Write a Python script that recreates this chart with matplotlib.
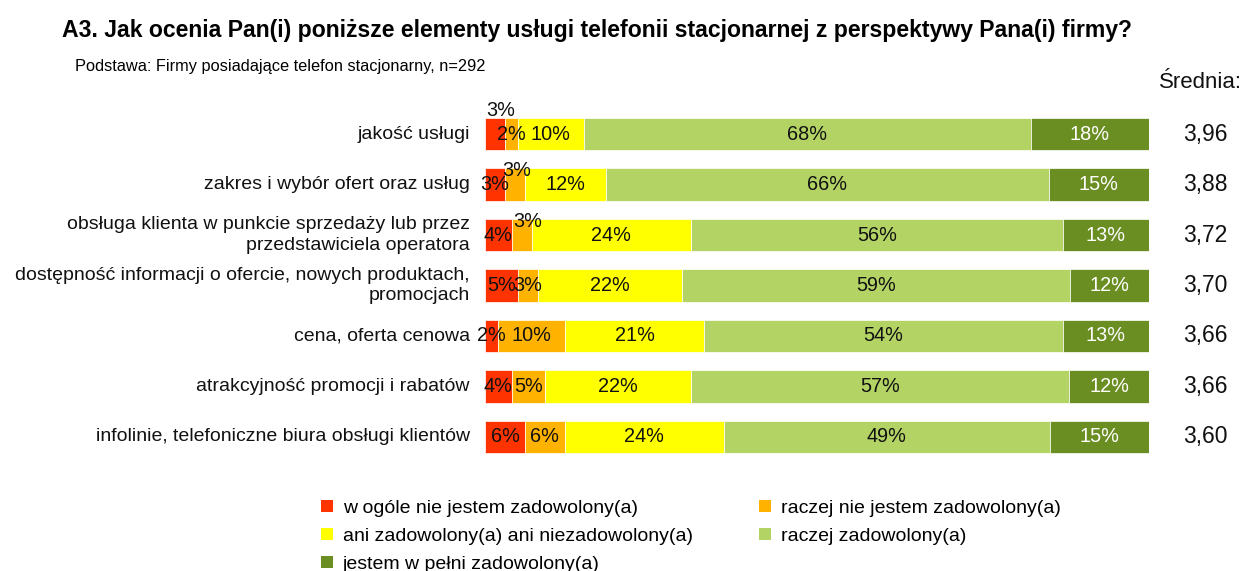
import numpy as np
import matplotlib
matplotlib.use('Agg')
import matplotlib.pyplot as plt
from matplotlib.patches import Patch

plt.rcParams['font.family'] = ['Liberation Sans', 'DejaVu Sans']

# --- data ---
categories = [
    "jakość usługi",
    "zakres i wybór ofert oraz usług",
    "obsługa klienta w punkcie sprzedaży lub przez\nprzedstawiciela operatora",
    "dostępność informacji o ofercie, nowych produktach,\npromocjach",
    "cena, oferta cenowa",
    "atrakcyjność promocji i rabatów",
    "infolinie, telefoniczne biura obsługi klientów",
]
series_names = [
    "w ogóle nie jestem zadowolony(a)",
    "raczej nie jestem zadowolony(a)",
    "ani zadowolony(a) ani niezadowolony(a)",
    "raczej zadowolony(a)",
    "jestem w pełni zadowolony(a)",
]
very_dissatisfied = [3, 3, 4, 5, 2, 4, 6]
rather_dissatisfied = [2, 3, 3, 3, 10, 5, 6]
neutral = [10, 12, 24, 22, 21, 22, 24]
rather_satisfied = [68, 66, 56, 59, 54, 57, 49]
fully_satisfied = [18, 15, 13, 12, 13, 12, 15]
averages = ["3,96", "3,88", "3,72", "3,70", "3,66", "3,66", "3,60"]

colors = ["#FF3300", "#FFB300", "#FFFF00", "#B3D465", "#6B8E23"]
text_colors = ["#111111", "#111111", "#111111", "#111111", "white"]

# labels that sit raised above the bar: (row, series) -> (dy, dx)
raised = {(0, 0): (-0.47, 0.8), (1, 1): (-0.28, 0.2), (2, 1): (-0.27, 0.9)}

values = np.array([very_dissatisfied, rather_dissatisfied, neutral,
                   rather_satisfied, fully_satisfied], dtype=float)
shares = values / values.sum(axis=0) * 100
lefts = np.vstack([np.zeros(len(categories)), np.cumsum(shares, axis=0)[:-1]])

fig = plt.figure(figsize=(12.45, 5.71), dpi=100)
ax = fig.add_axes([0.3896, 0.1905, 0.5334, 0.619])

y = np.arange(len(categories))
for s in range(len(series_names)):
    ax.barh(y, shares[s], left=lefts[s], height=0.65, color=colors[s],
            edgecolor='white', linewidth=0.5)
    for r in range(len(categories)):
        cx = lefts[s, r] + shares[s, r] / 2
        cy = y[r]
        if (r, s) in raised:
            dy, dx = raised[(r, s)]
            cx += dx
            cy += dy
        ax.text(cx, cy, f"{int(values[s, r])}%", ha='center', va='center',
                fontsize=14.3, color=text_colors[s])

ax.set_xlim(0, 100)
ax.set_ylim(len(categories) - 0.5, -0.5)
ax.axis('off')

for r, cat in enumerate(categories):
    ax.text(-2.3, y[r], cat, ha='right', va='center', fontsize=14,
            color='#111111', linespacing=1.3)
    ax.text(108.5, y[r], averages[r], ha='center', va='center', fontsize=16.5,
            color='#111111')

fig.text(0.9975, 0.855, "Średnia:", ha='right', va='center', fontsize=16,
         color='#111111')

fig.text(0.05, 0.947, "A3. Jak ocenia Pan(i) poniższe elementy usługi telefonii "
         "stacjonarnej z perspektywy Pana(i) firmy?", ha='left', va='center',
         fontsize=16.6, fontweight='bold', color='black')
fig.text(0.06, 0.884, "Podstawa: Firmy posiadające telefon stacjonarny, n=292",
         ha='left', va='center', fontsize=11.8, color='black')

order = [0, 2, 4, 1, 3]
handles = [Patch(facecolor=colors[i], edgecolor='none') for i in order]
labels = [series_names[i] for i in order]
fig.legend(handles, labels, ncol=2, loc='upper left',
           bbox_to_anchor=(321 / 1245, 1 - 500 / 571), frameon=False,
           fontsize=14, handlelength=0.62, handleheight=0.55,
           handletextpad=0.5, columnspacing=3.4, labelspacing=0.56,
           borderaxespad=0, borderpad=0)

fig.savefig('out.png', dpi=100)
